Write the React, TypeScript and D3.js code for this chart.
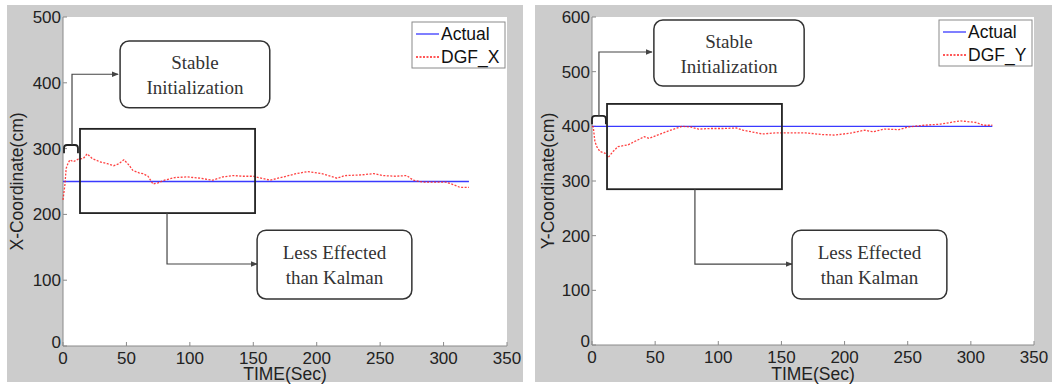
import React from "react";
import * as d3 from "d3";

// DGF_X estimate (left panel)
const tX = [0, 1.5, 2.5, 4, 5.5, 8, 12, 16, 19, 23, 29, 35, 40, 44, 48, 52, 55, 60, 63, 67, 71, 75, 80, 88, 98, 108, 118, 126, 134, 142, 150, 163, 174, 184, 193, 204, 216, 222, 235, 245, 252, 262, 271, 276, 284, 295, 302, 308, 313, 320];
const dgfX = [222, 245, 270, 278, 283, 280, 284, 285, 292, 285, 280, 277, 274, 277, 283, 275, 267, 263, 262, 258, 246, 248, 252, 256, 257, 255, 252, 257, 259, 258, 258, 252, 257, 262, 265, 262, 255, 259, 260, 262, 259, 258, 259, 252, 249, 249, 249, 245, 241, 241];
const actualX = 250;

// DGF_Y estimate (right panel)
const tY = [0, 1, 2.3, 4, 6.3, 10.2, 12.8, 16.7, 20.6, 28.4, 36.2, 41.4, 45.3, 51.8, 62.3, 71.4, 77.9, 84.4, 93.5, 104, 114.3, 119.5, 135, 145.5, 158.5, 169, 182, 192.5, 205.5, 216, 222.5, 231.5, 243, 251, 263, 276, 291.5, 304.5, 309.7, 317];
const dgfY = [400, 399, 372, 362, 354, 351, 343, 354, 363, 366, 375, 381, 378, 384, 393, 400, 399, 395, 396, 396, 397, 393, 386, 388, 388, 388, 385, 384, 388, 393, 390, 395, 394, 399, 402, 404, 410, 407, 402, 402];
const actualY = 400;

const xTicks = [0, 50, 100, 150, 200, 250, 300, 350];
const yTicksX = [0, 100, 200, 300, 400, 500];
const yTicksY = [0, 100, 200, 300, 400, 500, 600];

type Pt = [number, number];
interface Notes {
  stable: [number, number, number, number]; // t0, t1, v0, v1
  bracket: [number, number, number, number];
  link1: Pt[];
  zone: [number, number, number, number];
  link2: Pt[];
  less: [number, number, number, number];
}

const notesX: Notes = {
  stable: [45, 163, 463.5, 362],
  bracket: [0.8, 11.8, 305.5, 293],
  link1: [[7.1, 305.5], [7.1, 413], [43.4, 413]],
  zone: [13.4, 151.4, 330, 202],
  link2: [[82, 202], [82, 124.6], [153, 124.6]],
  less: [153, 275, 176, 71.4],
};
const notesY: Notes = {
  stable: [49, 168, 594.5, 473.7],
  bracket: [0, 11, 419, 404],
  link1: [[5.5, 419], [5.5, 536], [47.5, 536]],
  zone: [11.9, 150.4, 441, 285],
  link2: [[81.5, 285], [81.5, 148], [158.4, 148]],
  less: [158.4, 281, 210, 84],
};

interface PanelProps {
  id: string;
  gx: [number, number];
  plot: { l: number; r: number; t: number; b: number };
  yMax: number;
  yTicks: number[];
  t: number[];
  v: number[];
  actual: number;
  yLabel: string;
  yLabelOff: number;
  name: string;
  legend: { x: number; y: number };
  notes: Notes;
}

function Panel(p: PanelProps) {
  const { plot } = p;
  const x = d3.scaleLinear().domain([0, 350]).range([plot.l, plot.r]);
  const y = d3.scaleLinear().domain([0, p.yMax]).range([plot.b, plot.t]);
  const line = d3.line<number>().x((_, i) => x(p.t[i])).y(d => y(d));
  const n = p.notes;
  const box = (b: [number, number, number, number]) => ({
    x: x(b[0]), y: y(b[2]), width: x(b[1]) - x(b[0]), height: y(b[3]) - y(b[2]),
  });
  const path = (pts: Pt[]) => d3.line<Pt>().x(d => x(d[0])).y(d => y(d[1]))(pts) || "";
  const sb = box(n.stable);
  const lb = box(n.less);
  const zb = box(n.zone);
  const br = n.bracket;
  const bx0 = x(br[0]), bx1 = x(br[1]), by0 = y(br[2]), by1 = y(br[3]);
  const serif = "'Liberation Serif', 'DejaVu Serif', serif";
  return (
    <g>
      <rect x={p.gx[0]} y={5} width={p.gx[1] - p.gx[0]} height={377} fill="#cccccc" />
      <rect x={plot.l} y={plot.t} width={plot.r - plot.l} height={plot.b - plot.t} fill="#ffffff" />
      {/* axes */}
      <line x1={plot.l} x2={plot.l} y1={plot.t} y2={plot.b} stroke="#8a8a8a" />
      <line x1={plot.l} x2={plot.r} y1={plot.b} y2={plot.b} stroke="#8a8a8a" />
      {xTicks.map(d => (
        <g key={"x" + d}>
          <line x1={x(d)} x2={x(d)} y1={plot.b} y2={plot.b - 4} stroke="#8a8a8a" />
          <text x={x(d)} y={plot.b + 18} textAnchor="middle" fontSize={17} fill="#222">{d}</text>
        </g>
      ))}
      {p.yTicks.map(d => (
        <g key={"y" + d}>
          <line x1={plot.l} x2={plot.l + 4} y1={y(d)} y2={y(d)} stroke="#8a8a8a" />
          <text x={plot.l - 2} y={d === 0 ? y(d) + 2 : y(d) + 6} textAnchor="end" fontSize={17} fill="#222">{d}</text>
        </g>
      ))}
      <text x={(plot.l + plot.r) / 2} y={380} textAnchor="middle" fontSize={17.5} fill="#222">TIME(Sec)</text>
      <text transform={`translate(${plot.l - p.yLabelOff},${(plot.t + plot.b) / 2}) rotate(-90)`} textAnchor="middle" fontSize={17.5} fill="#222">{p.yLabel}</text>

      {/* series */}
      <line x1={x(0)} x2={x(p.t[p.t.length - 1])} y1={y(p.actual)} y2={y(p.actual)} stroke="#3a3aff" strokeWidth={1.3} />
      <path d={line(p.v) || ""} fill="none" stroke="#ff2020" strokeWidth={1.3} strokeDasharray="2,1.5" opacity={0.85} />

      {/* annotations */}
      <rect {...zb} fill="none" stroke="#222" strokeWidth={1.8} />
      <path d={`M${bx0},${by1} V${by0 + 3} Q${bx0},${by0} ${bx0 + 3},${by0} H${bx1 - 3} Q${bx1},${by0} ${bx1},${by0 + 3} V${by1}`} fill="none" stroke="#222" strokeWidth={1.8} />
      <path d={path(n.link1)} fill="none" stroke="#444" strokeWidth={1.2} markerEnd={`url(#arr${p.id})`} />
      <path d={path(n.link2)} fill="none" stroke="#444" strokeWidth={1.2} markerEnd={`url(#arr${p.id})`} />
      <rect {...sb} rx={9} fill="#fff" stroke="#333" strokeWidth={1.5} />
      <text x={sb.x + sb.width / 2} y={sb.y + 28} textAnchor="middle" fontFamily={serif} fontSize={19} fill="#333">Stable</text>
      <text x={sb.x + sb.width / 2} y={sb.y + 53} textAnchor="middle" fontFamily={serif} fontSize={19} fill="#333">Initialization</text>
      <rect {...lb} rx={9} fill="#fff" stroke="#333" strokeWidth={1.5} />
      <text x={lb.x + lb.width / 2} y={lb.y + 29} textAnchor="middle" fontFamily={serif} fontSize={19} fill="#333">Less Effected</text>
      <text x={lb.x + lb.width / 2} y={lb.y + 54} textAnchor="middle" fontFamily={serif} fontSize={19} fill="#333">than Kalman</text>

      {/* legend */}
      <rect x={p.legend.x} y={p.legend.y} width={93} height={46} fill="#fff" stroke="#8a8a8a" strokeWidth={1} />
      <line x1={p.legend.x + 4} x2={p.legend.x + 27} y1={p.legend.y + 12} y2={p.legend.y + 12} stroke="#3a3aff" strokeWidth={1.3} />
      <text x={p.legend.x + 29} y={p.legend.y + 18} fontSize={17.5} fill="#111">Actual</text>
      <line x1={p.legend.x + 4} x2={p.legend.x + 27} y1={p.legend.y + 35} y2={p.legend.y + 35} stroke="#ff2020" strokeWidth={1.3} strokeDasharray="2,1.5" />
      <text x={p.legend.x + 29} y={p.legend.y + 41} fontSize={17.5} fill="#111">{p.name}</text>
    </g>
  );
}

export default function App() {
  return (
    <svg width={1053} height={385} style={{ position: "absolute", left: 0, top: 0, fontFamily: "'Liberation Sans', Arial, sans-serif" }}>
      <defs>
        {["L", "R"].map(k => (
          <marker key={k} id={"arr" + k} viewBox="0 0 10 10" refX={9} refY={5} markerWidth={7} markerHeight={7} orient="auto" markerUnits="userSpaceOnUse">
            <path d="M0,1 L10,5 L0,9 Z" fill="#444" />
          </marker>
        ))}
      </defs>
      <rect width={1053} height={385} fill="#fff" />
      <Panel id="L" gx={[7, 523]} plot={{ l: 63, r: 507, t: 17, b: 346 }} yMax={500} yTicks={yTicksX}
        t={tX} v={dgfX} actual={actualX} yLabel="X-Coordinate(cm)" yLabelOff={40} name="DGF_X" legend={{ x: 412, y: 22 }} notes={notesX} />
      <Panel id="R" gx={[535, 1052]} plot={{ l: 592, r: 1034, t: 17, b: 345 }} yMax={600} yTicks={yTicksY}
        t={tY} v={dgfY} actual={actualY} yLabel="Y-Coordinate(cm)" yLabelOff={38} name="DGF_Y" legend={{ x: 939, y: 20 }} notes={notesY} />
    </svg>
  );
}
